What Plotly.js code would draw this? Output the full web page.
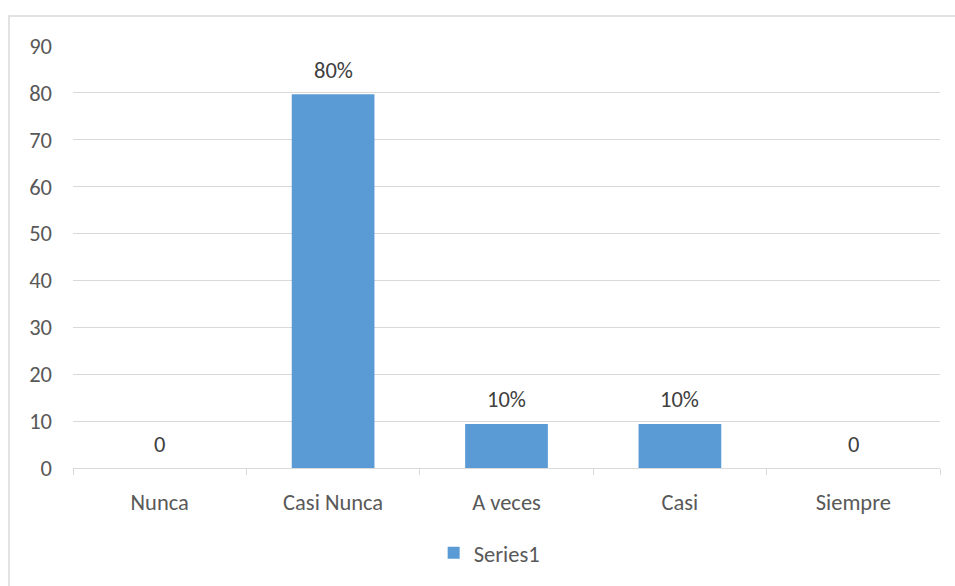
<!DOCTYPE html>
<html>
<head>
<meta charset="utf-8">
<script src="https://cdn.plot.ly/plotly-3.0.1.min.js"></script>
<style>html,body{margin:0;padding:0;background:#fff}#chart{width:955px;height:586px}</style>
</head>
<body>
<div id="chart"></div>
<script>
const categories = ["Nunca", "Casi Nunca", "A veces", "Casi", "Siempre"];
const values = [0, 79.7, 9.4, 9.4, 0];
const labels = ["0", "80%", "10%", "10%", "0"];
const seriesName = "Series1";
const yTicks = [0, 10, 20, 30, 40, 50, 60, 70, 80, 90];

const font = "Calibri, Carlito, 'Open Sans', 'Liberation Sans', sans-serif";
const fs = 22.5;

const annotations = categories.map((c, i) => ({
  x: c, y: values[i], xref: "x", yref: "y",
  text: labels[i], showarrow: false,
  yanchor: "middle", yshift: 24,
  font: {family: font, size: fs, color: "#404040"}
}));

Plotly.newPlot("chart", [{
  type: "bar",
  x: categories,
  y: values,
  name: seriesName,
  marker: {color: "#5b9bd5"},
  showlegend: true,
  hoverinfo: "none"
}], {
  width: 955, height: 586,
  margin: {l: 73, r: 15, t: 46, b: 117},
  paper_bgcolor: "#ffffff",
  plot_bgcolor: "#ffffff",
  bargap: 0.523,
  font: {family: font, color: "#595959", size: fs},
  xaxis: {
    type: "category",
    showgrid: false,
    showline: true, linecolor: "#d9d9d9", linewidth: 1,
    ticks: "outside", tickson: "boundaries", ticklen: 6, tickcolor: "#d9d9d9",
    ticklabelstandoff: 14,
    tickfont: {family: font, size: fs, color: "#595959"},
    zeroline: false
  },
  yaxis: {
    range: [0, 90],
    tickvals: yTicks,
    showgrid: true, gridcolor: "#d9d9d9", gridwidth: 1,
    zeroline: true, zerolinecolor: "#d9d9d9", zerolinewidth: 1,
    showline: false, ticks: "",
    ticklabelstandoff: 20,
    tickfont: {family: font, size: fs, color: "#595959"}
  },
  annotations: annotations,
  showlegend: true,
  legend: {
    orientation: "h", x: 0.48, xanchor: "center", y: -0.199, yanchor: "middle",
    font: {family: font, size: fs, color: "#595959"},
    itemwidth: 30
  },
  shapes: [{
    type: "rect", xref: "paper", yref: "paper",
    x0: -0.0738, x1: 1.05, y0: -0.4, y1: 1.0709,
    line: {color: "#d9d9d9", width: 1.5}, fillcolor: "rgba(0,0,0,0)", layer: "below"
  }]
}, {displayModeBar: false, staticPlot: true});
</script>
</body>
</html>
